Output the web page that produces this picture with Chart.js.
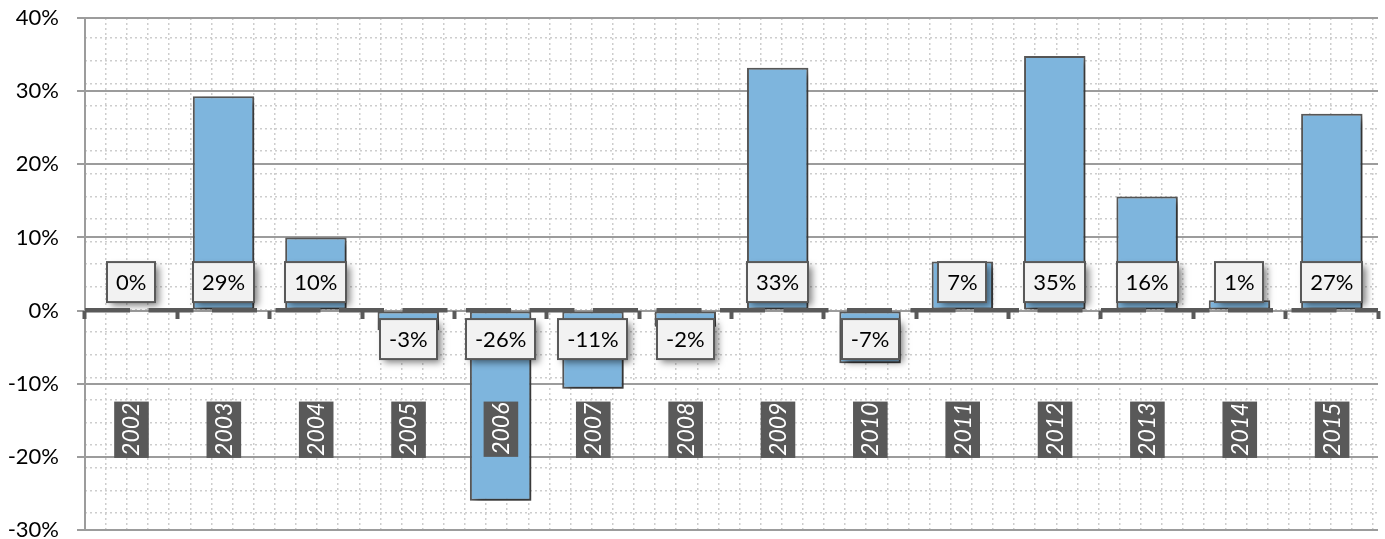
<!DOCTYPE html>
<html>
<head>
<meta charset="utf-8">
<title>Annual returns</title>
<script src="https://cdn.jsdelivr.net/npm/chart.js"></script>
<style>
    html, body { margin: 0; padding: 0; background: #ffffff; }
    #wrap { width: 1385px; height: 539px; }
</style>
</head>
<body>
<div id="wrap"><canvas id="myChart"></canvas></div>
<script>
    // values (percent)
    var years = ['2002', '2003', '2004', '2005', '2006', '2007', '2008',
                 '2009', '2010', '2011', '2012', '2013', '2014', '2015'];
    var returns = [0, 29.3, 10.0, -2.7, -26.0, -10.7, -2.2,
                   33.2, -7.2, 6.7, 34.8, 15.6, 1.4, 26.9];
    var yTicks = [-30, -20, -10, 0, 10, 20, 30, 40];

    var DARK = '#595959';
    var GRID = '#9c9c9c';
    var DOTS = '#cdcdcd';

    Chart.defaults.font.family = 'Lato';

    function setTicks(values) {
        return function (scale) {
            scale.ticks = values.map(function (v) { return { value: v }; });
        };
    }

    // integer steps for the dotted background grid
    function range(n) {
        var out = [];
        for (var k = 0; k <= n; k++) out.push(k);
        return out;
    }

    // keep helper axes from eating layout space
    function noPadding(scale) {
        scale.paddingLeft = 0;
        scale.paddingRight = 0;
        scale.paddingTop = 0;
        scale.paddingBottom = 0;
        if (scale.isHorizontal()) scale.height = 0; else scale.width = 0;
    }

    function shadow(ctx) {
        ctx.shadowColor = 'rgba(0,0,0,0.5)';
        ctx.shadowBlur = 7;
        ctx.shadowOffsetX = 4;
        ctx.shadowOffsetY = 4;
    }

    // bar shadows + the boxed value labels
    var barExtras = {
        id: 'barExtras',
        beforeDatasetsDraw: function (chart) {
            chart.ctx.save();
            shadow(chart.ctx);
        },
        afterDatasetsDraw: function (chart) {
            var ctx = chart.ctx;
            ctx.restore();

            var meta = chart.getDatasetMeta(0);
            var zero = chart.scales.y.getPixelForValue(0);
            ctx.save();
            ctx.font = '22px Lato';
            ctx.textAlign = 'center';
            ctx.textBaseline = 'middle';
            meta.data.forEach(function (bar, i) {
                var v = returns[i];
                var text = Math.round(v) + '%';
                var w = Math.round(ctx.measureText(text).width) + 18;
                var h = 40;
                var top = v >= 0 ? zero - 8.5 - h : zero + 8.5;
                var left = Math.round(bar.x - w / 2);

                ctx.save();
                shadow(ctx);
                ctx.fillStyle = '#f2f2f2';
                ctx.fillRect(left, top, w, h);
                ctx.restore();

                ctx.lineWidth = 2;
                ctx.strokeStyle = DARK;
                ctx.strokeRect(left, top, w, h);
                ctx.fillStyle = '#000000';
                ctx.fillText(text, bar.x, top + h / 2 + 1);
            });
            ctx.restore();
        }
    };

    var ctx = document.getElementById('myChart').getContext('2d');

    var myChart = new Chart(ctx, {
        type: 'bar',
        data: {
            labels: years,
            datasets: [{
                label: 'Return',
                data: returns,
                xAxisID: 'x',
                yAxisID: 'y',
                backgroundColor: '#7eb5dd',
                borderColor: DARK,
                borderWidth: 2,
                borderSkipped: false,
                barPercentage: 0.665,
                categoryPercentage: 1
            }]
        },
        options: {
            responsive: true,
            maintainAspectRatio: false,
            animation: false,
            layout: { padding: { top: 18, right: 7, bottom: 9, left: 0 } },
            plugins: {
                legend: { display: false },
                tooltip: { enabled: false }
            },
            scales: {
                x: {
                    type: 'category',
                    position: { y: 0 },
                    offset: true,
                    afterFit: function (scale) {
                        scale.paddingLeft = 0;
                        scale.paddingRight = 0;
                    },
                    grid: {
                        z: 2,
                        offset: true,
                        drawOnChartArea: false,
                        tickLength: 8,
                        tickWidth: 4,
                        tickColor: DARK
                    },
                    border: { display: false },
                    ticks: {
                        z: 2,
                        autoSkip: false,
                        minRotation: 90,
                        maxRotation: 90,
                        padding: 84,
                        labelOffset: -13,
                        color: '#ffffff',
                        font: { size: 23, style: 'italic' },
                        showLabelBackdrop: true,
                        backdropColor: DARK,
                        backdropPadding: { top: 4, bottom: 3, left: 2, right: 1 }
                    }
                },
                y: {
                    type: 'linear',
                    position: 'left',
                    min: -30,
                    max: 40,
                    afterBuildTicks: setTicks(yTicks),
                    afterFit: function (scale) {
                        scale.width = 85;
                        scale.paddingTop = 0;
                        scale.paddingBottom = 0;
                    },
                    grid: { color: GRID, lineWidth: 2, tickLength: 8, tickColor: GRID },
                    border: { display: true, color: GRID, width: 2 },
                    ticks: {
                        padding: 18,
                        color: '#000000',
                        font: { size: 22 },
                        callback: function (v) { return v + '%'; }
                    }
                },
                // dashed zero line, drawn over the bars
                yZero: {
                    type: 'linear',
                    axis: 'y',
                    position: 'right',
                    min: -30,
                    max: 40,
                    afterBuildTicks: setTicks([0]),
                    afterFit: noPadding,
                    grid: { z: 1, color: DARK, lineWidth: 4.5, drawTicks: false },
                    border: { display: false, dash: [45, 18.5] },
                    ticks: { display: false }
                },
                // dotted background grid
                yMinor: {
                    type: 'linear',
                    axis: 'y',
                    position: 'right',
                    min: -0.752,
                    max: 21.885,
                    afterBuildTicks: setTicks(range(21)),
                    afterFit: noPadding,
                    grid: { z: -2, color: DOTS, lineWidth: 1.5, drawTicks: false },
                    border: { display: false, dash: [2, 3] },
                    ticks: { display: false }
                },
                xMinor: {
                    type: 'linear',
                    axis: 'x',
                    position: 'top',
                    min: -0.978,
                    max: 59.22,
                    afterBuildTicks: setTicks(range(59)),
                    afterFit: noPadding,
                    grid: { z: -2, color: DOTS, lineWidth: 1.5, drawTicks: false },
                    border: { display: false, dash: [2, 3] },
                    ticks: { display: false }
                }
            }
        },
        plugins: [barExtras]
    });
</script>
</body>
</html>
